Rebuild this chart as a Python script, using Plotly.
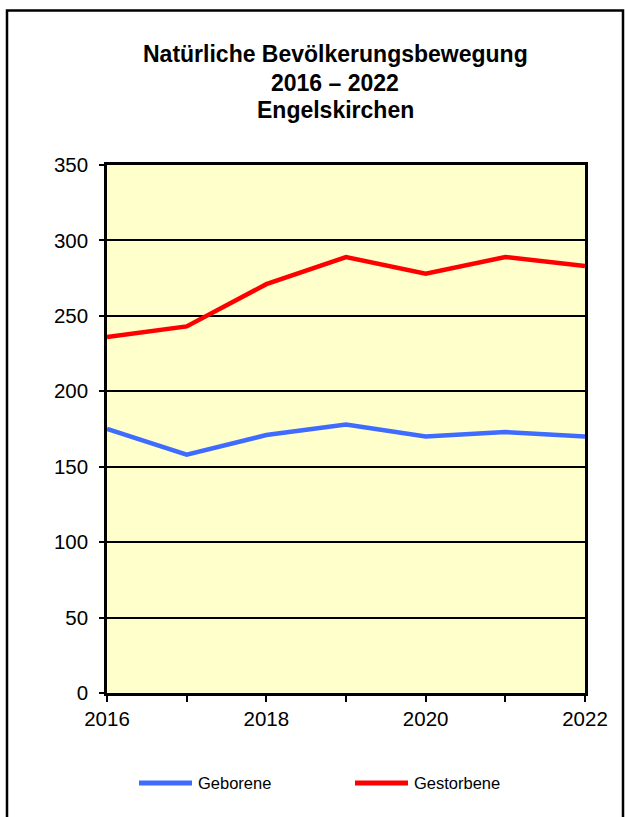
import plotly.graph_objects as go

years = [2016, 2017, 2018, 2019, 2020, 2021, 2022]
geborene = [175, 158, 171, 178, 170, 173, 170]
gestorbene = [236, 243, 271, 289, 278, 289, 283]
x_tick_labels = ["2016", "", "2018", "", "2020", "", "2022"]
title_lines = ["Natürliche Bevölkerungsbewegung", "2016 – 2022", "Engelskirchen"]
series_names = ["Geborene", "Gestorbene"]
series_colors = ["#3F6BFF", "#FF0000"]

FONT = "Liberation Sans, Arial, sans-serif"

fig = go.Figure()
for name, vals, col in zip(series_names, [geborene, gestorbene], series_colors):
    fig.add_trace(go.Scatter(x=years, y=vals, mode="lines", name=name,
                             line=dict(color=col, width=4.5)))

L, R, T, B = 107, 585, 165, 693
W, H = 625, 817
pw, ph = R - L, B - T

def px(x):
    return (x - L) / pw

def py(y):
    return (B - y) / ph

fig.update_layout(
    width=W, height=H,
    margin=dict(l=L, r=W - R, t=T, b=H - B, pad=0),
    paper_bgcolor="white",
    plot_bgcolor="#FFFFCC",
    font=dict(family=FONT, color="black", size=20),
    showlegend=False,
    xaxis=dict(range=[2016, 2022], tickvals=years, ticktext=x_tick_labels,
               ticks="outside", ticklen=6, tickwidth=2, tickcolor="black",
               showline=True, linecolor="black", linewidth=2.5, mirror=True,
               showgrid=False, zeroline=False, tickfont=dict(size=20.5)),
    yaxis=dict(range=[0, 350], dtick=50, ticks="outside", ticklen=5, tickwidth=2,
               tickcolor="black", showline=True, linecolor="black", linewidth=2.5,
               mirror=True, showgrid=True, gridcolor="black", gridwidth=2,
               zeroline=False, tickfont=dict(size=20.5), ticklabelstandoff=7),
)

# title, one annotation per line
for line, yc in zip(title_lines, [54, 83, 110]):
    fig.add_annotation(xref="paper", yref="paper", x=px(335), y=py(yc),
                       text="<b>" + line + "</b>", showarrow=False,
                       xanchor="center", yanchor="middle",
                       font=dict(size=23, family=FONT, color="black"))

# legend drawn manually
for name, col, x0 in zip(series_names, series_colors, [139, 355]):
    fig.add_shape(type="line", xref="paper", yref="paper",
                  x0=px(x0), x1=px(x0 + 53), y0=py(783), y1=py(783),
                  line=dict(color=col, width=5))
    fig.add_annotation(xref="paper", yref="paper", x=px(x0 + 57), y=py(783),
                       text=name, showarrow=False, xanchor="left", yanchor="middle",
                       font=dict(size=16.5, family=FONT, color="black"))

# outer frame
fig.add_shape(type="rect", xref="paper", yref="paper",
              x0=px(7), x1=px(623), y0=py(835), y1=py(10.5),
              line=dict(color="black", width=2.5), fillcolor="rgba(0,0,0,0)", layer="below")

fig.write_html("out.html", config={"displayModeBar": False},
               post_script="document.body.style.margin='0';document.body.style.overflow='hidden';")
